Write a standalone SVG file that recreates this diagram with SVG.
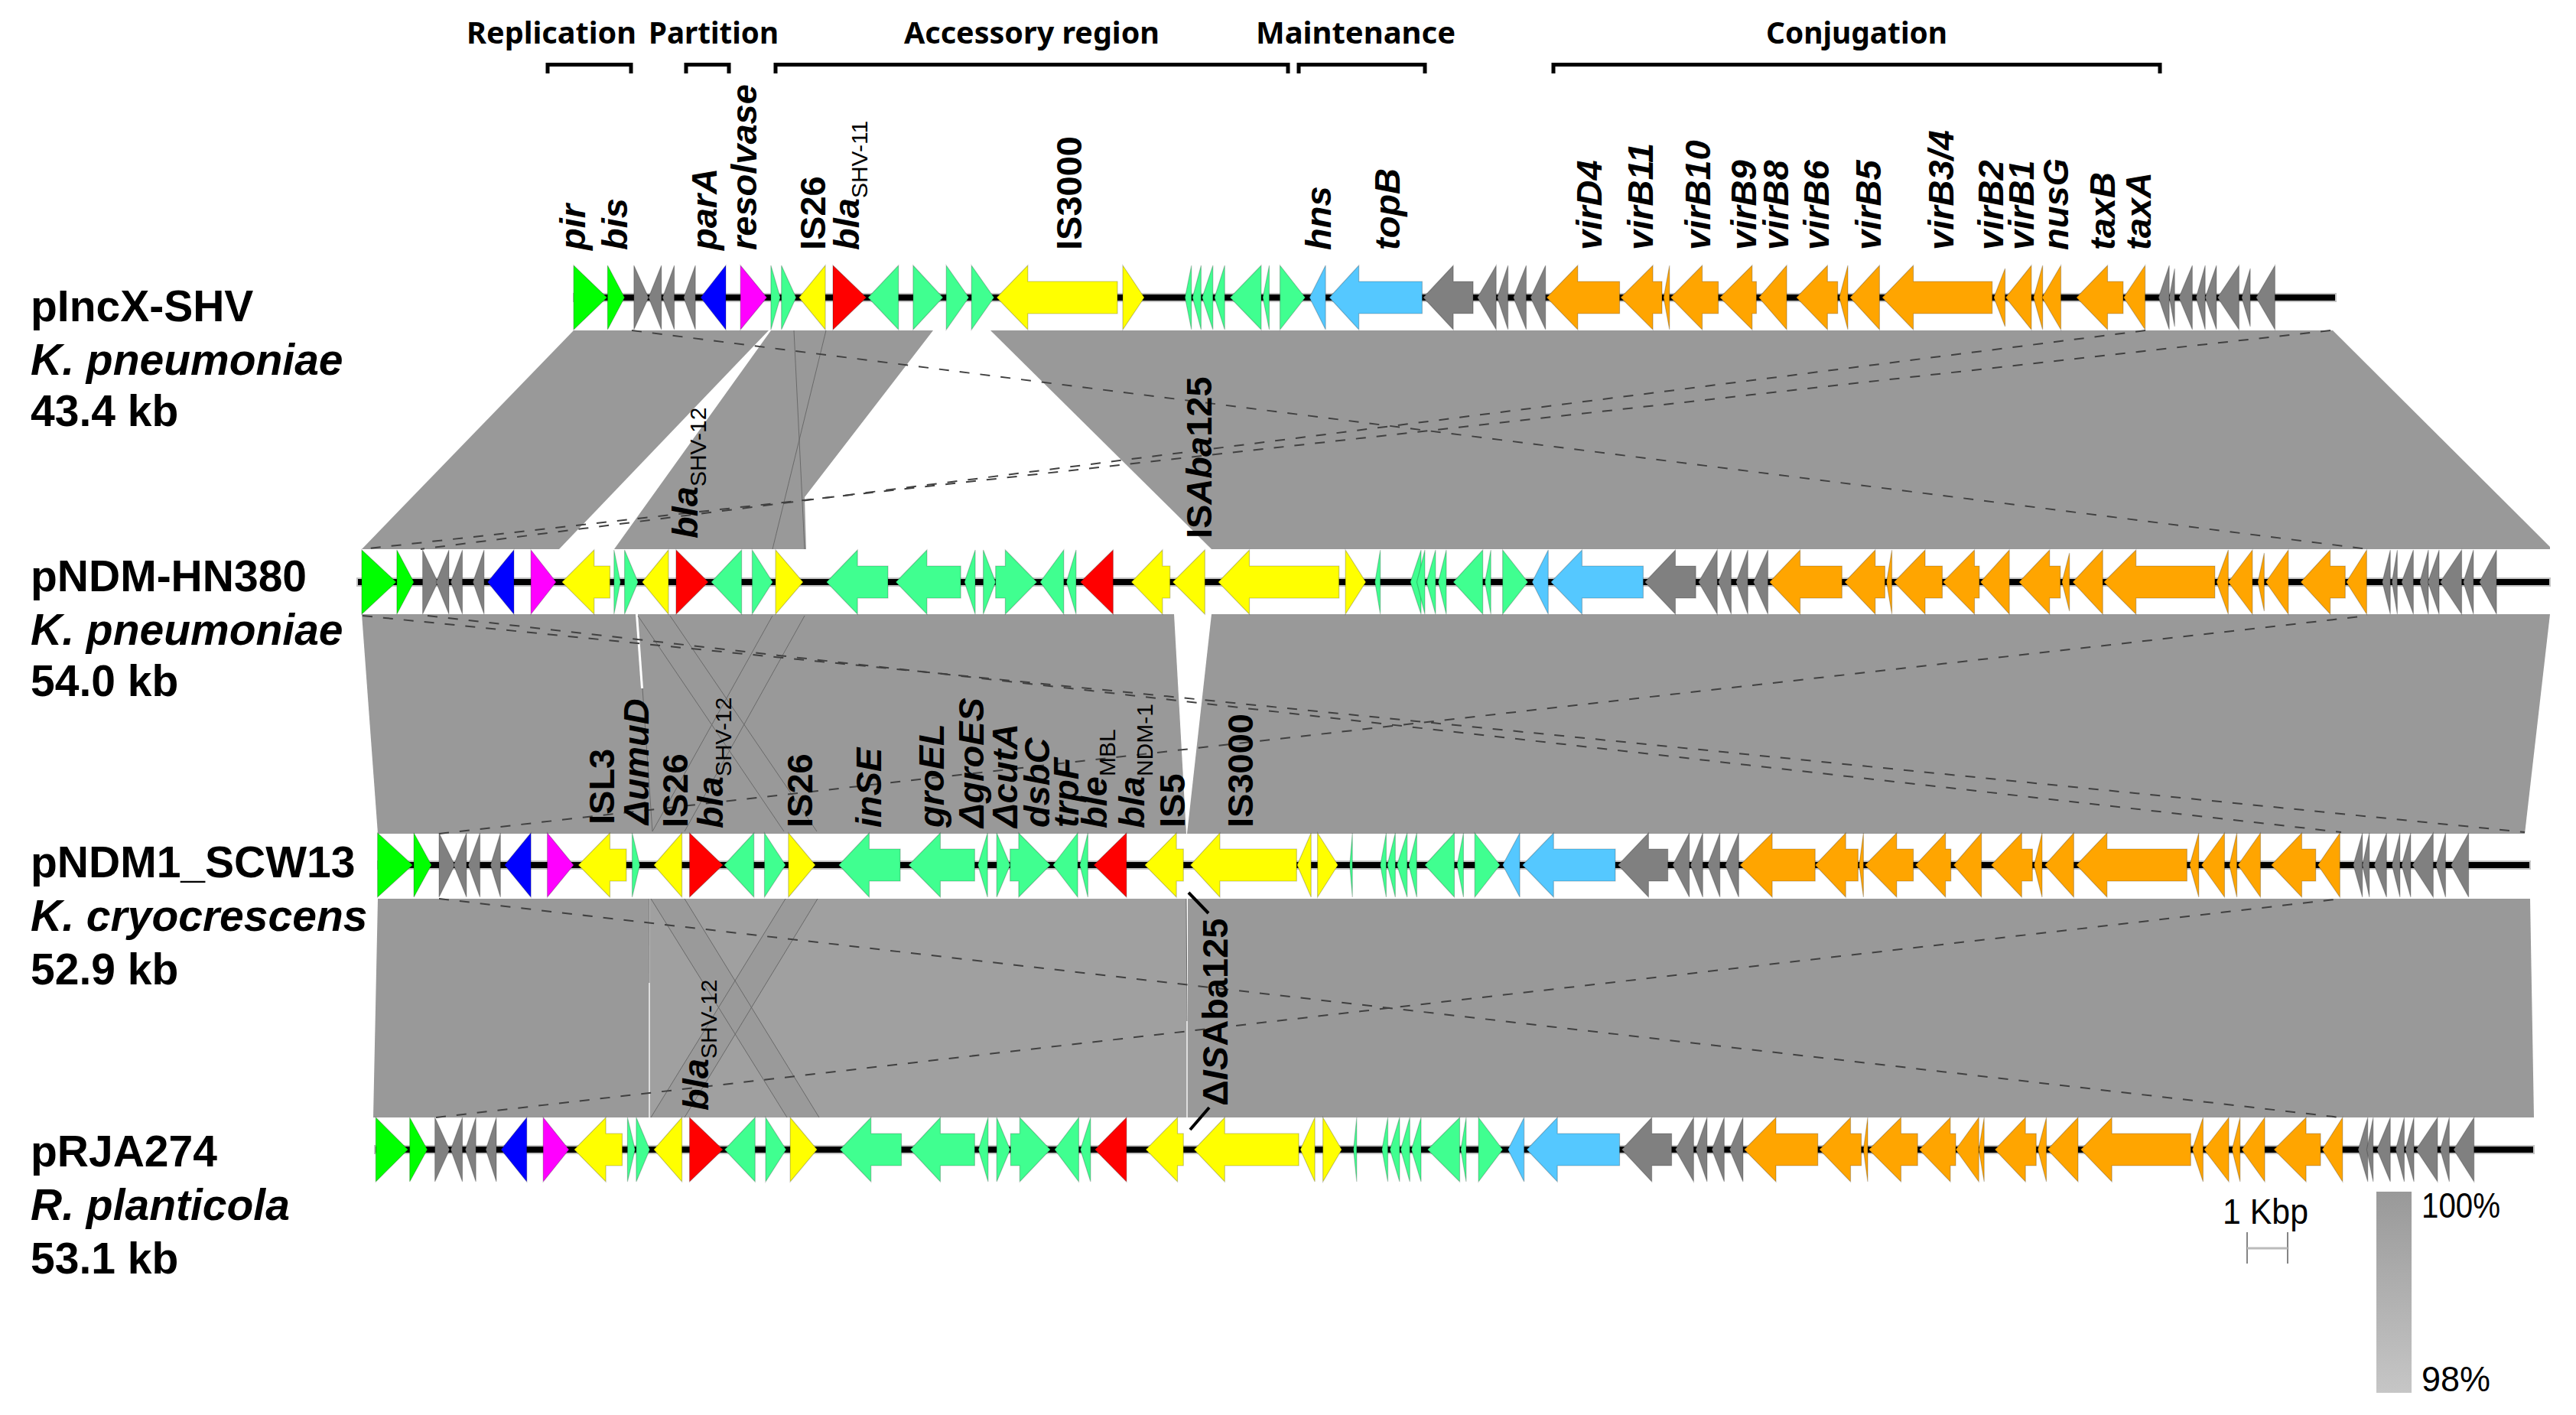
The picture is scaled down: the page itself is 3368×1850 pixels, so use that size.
<svg xmlns="http://www.w3.org/2000/svg" width="3368" height="1850" viewBox="0 0 3368 1850">
<defs>
<linearGradient id="scaleGrad" x1="0" y1="0" x2="0" y2="1"><stop offset="0" stop-color="#999"/><stop offset="1" stop-color="#c6c6c6"/></linearGradient>
</defs>
<style>
text{font-family:"Liberation Sans",Arial,sans-serif;fill:#000}
.name{font-size:57px;font-weight:bold}
.sp{font-size:57px;font-weight:bold;font-style:italic}
.head{font-family:"Noto Sans","Liberation Sans",sans-serif;font-size:40px;font-weight:bold}
.gi{font-size:47px;font-weight:bold;font-style:italic}
.gr{font-size:47px;font-weight:bold}
.sub{font-size:30px;font-weight:normal;font-style:normal}
.it{font-style:italic}
.leg{font-size:46px}
.band{fill:#999}
.bandl{fill:#a0a0a0}
.dash{fill:none;stroke:#404040;stroke-width:2;stroke-dasharray:13 14}
.thin{fill:none;stroke:#6a6a6a;stroke-width:1}
.br{fill:none;stroke:#000;stroke-width:5}
.lead{fill:none;stroke:#000;stroke-width:4}
.bb{fill:#000;stroke:#c4c4c4;stroke-width:2}
.g,.s,.y,.r,.b,.m,.k,.o,.c{stroke:#000;stroke-opacity:.22;stroke-width:1.2;vector-effect:non-scaling-stroke}
.g{fill:#0f0}.s{fill:#40ff90}.y{fill:#ff0}.r{fill:#f00}.b{fill:#00f}.m{fill:#f0f}.k{fill:#808080}.o{fill:#ffa500}.c{fill:#55c8ff}
</style>
<rect width="3368" height="1850" fill="#fff"/>

<g id="connectors">
<polygon class="band" points="750,432 1005,432 731,718 473,718"/>
<polygon class="band" points="1008,432 1220,432 1052,650 1054,718 803,718"/>
<polygon class="band" points="1295,432 3050,432 3334,715 3334,718 1584,718"/>
<polygon class="band" points="473,803 1535,803 1551,1090 494,1090"/>
<polygon class="band" points="1584,803 3334,803 3301,1090 1552,1090"/>
<polygon class="band" points="494,1175 849,1175 848,1461 488,1461"/>
<polygon class="bandl" points="850,1175 1551,1175 1552,1461 850,1461"/>
<polygon class="band" points="1553,1175 3308,1175 3313,1461 1553,1461"/>
<polygon fill="#9a9a9a" points="851,1175 895,1175 1071,1461 1029,1461"/>
<polygon fill="#9a9a9a" points="1027,1175 1069,1175 895,1461 851,1461"/>
<polygon fill="#fff" points="831,803 834,803 841,900 838,900"/>
<line class="thin" x1="840" y1="900" x2="853" y2="1087"/>
<line x1="849" y1="1285" x2="849" y2="1461" stroke="#ddd" stroke-width="2"/>
<line class="thin" x1="849" y1="1175" x2="849" y2="1285"/>
<line x1="1552" y1="1335" x2="1552" y2="1461" stroke="#ddd" stroke-width="2"/>
<line class="thin" x1="1551" y1="1175" x2="1552" y2="1335"/>
<line class="thin" x1="1038" y1="432" x2="1052" y2="718"/>
<line class="thin" x1="1080" y1="432" x2="1010" y2="718"/>
<line class="thin" x1="834" y1="805" x2="1025" y2="1087"/>
<line class="thin" x1="876" y1="805" x2="1068" y2="1087"/>
<line class="thin" x1="1010" y1="805" x2="853" y2="1087"/>
<line class="thin" x1="1052" y1="805" x2="895" y2="1087"/>
<line class="thin" x1="851" y1="1175" x2="1029" y2="1461"/>
<line class="thin" x1="895" y1="1175" x2="1071" y2="1461"/>
<line class="thin" x1="1027" y1="1175" x2="851" y2="1461"/>
<line class="thin" x1="1069" y1="1175" x2="895" y2="1461"/>
<line class="dash" x1="826" y1="432" x2="3096" y2="718"/>
<line class="dash" x1="2805" y1="432" x2="550" y2="718"/>
<line class="dash" x1="3047" y1="432" x2="474" y2="718"/>
<line class="dash" x1="474" y1="805" x2="3301" y2="1088"/>
<line class="dash" x1="559" y1="805" x2="3061" y2="1088"/>
<line class="dash" x1="574" y1="1090" x2="3096" y2="805"/>
<line class="dash" x1="574" y1="1175" x2="3060" y2="1461"/>
<line class="dash" x1="570" y1="1461" x2="3061" y2="1175"/>
</g>

<g id="headers">
<text class="head" x="610" y="57" textLength="222" lengthAdjust="spacingAndGlyphs">Replication</text>
<text class="head" x="848" y="57" textLength="170" lengthAdjust="spacingAndGlyphs">Partition</text>
<text class="head" x="1182" y="57" textLength="334" lengthAdjust="spacingAndGlyphs">Accessory region</text>
<text class="head" x="1642" y="57" textLength="261" lengthAdjust="spacingAndGlyphs">Maintenance</text>
<text class="head" x="2309" y="57" textLength="237" lengthAdjust="spacingAndGlyphs">Conjugation</text>
<path class="br" d="M716 96V84.500H825V96"/>
<path class="br" d="M897 96V84.500H953V96"/>
<path class="br" d="M1014 96V84.500H1684V96"/>
<path class="br" d="M1698 96V84.500H1863V96"/>
<path class="br" d="M2031 96V84.500H2824V96"/>
</g>

<g id="plasmid-labels">
<text class="name" x="40" y="420">pIncX-SHV</text>
<text class="sp" x="40" y="490">K. pneumoniae</text>
<text class="name" x="40" y="557">43.4 kb</text>
<text class="name" x="40" y="773">pNDM-HN380</text>
<text class="sp" x="40" y="843">K. pneumoniae</text>
<text class="name" x="40" y="910">54.0 kb</text>
<text class="name" x="40" y="1147">pNDM1_SCW13</text>
<text class="sp" x="40" y="1217">K. cryocrescens</text>
<text class="name" x="40" y="1287">52.9 kb</text>
<text class="name" x="40" y="1525">pRJA274</text>
<text class="sp" x="40" y="1595">R. planticola</text>
<text class="name" x="40" y="1665">53.1 kb</text>
</g>

<g id="track-pIncX-SHV">
<rect class="bb" x="750" y="384" width="2304" height="10"/>
<g transform="translate(0,389) scale(.7653,1)">
<path class="g" d="M980-42L1037 0L980 42Z"/><path class="g" d="M1038-42L1067 0L1038 42Z"/>
<path class="k" d="M1083-42L1108 0L1083 42Z"/><path class="k" d="M1130-42L1108 0L1130 42Z"/><path class="k" d="M1152-42L1132 0L1152 42Z"/><path class="k" d="M1188-42L1168 0L1188 42Z"/>
<path class="b" d="M1240-42L1197 0L1240 42Z"/><path class="m" d="M1265-42L1310 0L1265 42Z"/>
<path class="s" d="M1317-42L1333 0L1317 42Z"/><path class="s" d="M1335-42L1360 0L1335 42Z"/>
<path class="y" d="M1410-42L1365 0L1410 42Z"/><path class="r" d="M1423-42L1480 0L1423 42Z"/>
<path class="s" d="M1535-42L1483 0L1535 42Z"/><path class="s" d="M1560-42L1611 0L1560 42Z"/>
</g>
<g transform="translate(1200,389) scale(.7015,1)">
<path class="s" d="M53-42L95 0L53 42Z"/><path class="s" d="M100-42L142 0L100 42Z"/>
<path class="y" d="M147 0L205-42V-21H372V21H205V42Z"/><path class="y" d="M382-42L422 0L382 42Z"/>
<path class="s" d="M510-42L498 0L510 42Z"/><path class="s" d="M528-42L512 0L528 42Z"/><path class="s" d="M550-42L530 0L550 42Z"/><path class="s" d="M572-42L553 0L572 42Z"/>
<path class="s" d="M640-42L582 0L640 42Z"/><path class="s" d="M655-42L643 0L655 42Z"/><path class="s" d="M675-42L722 0L675 42Z"/>
<path class="c" d="M760-42L730 0L760 42Z"/><path class="c" d="M767 0L822-42V-21H940V21H822V42Z"/>
<path class="k" d="M942 0L998-42V-21H1035V21H998V42Z"/>
<path class="k" d="M1078-42L1043 0L1078 42Z"/><path class="k" d="M1100-42L1080 0L1100 42Z"/><path class="k" d="M1134-42L1110 0L1134 42Z"/><path class="k" d="M1170-42L1142 0L1170 42Z"/>
<path class="o" d="M1172 0L1230-42V-21H1308V21H1230V42Z"/><path class="o" d="M1310 0L1370-42V-21H1387V21H1370V42Z"/>
<path class="o" d="M1401-42L1390 0L1401 42Z"/><path class="o" d="M1403 0L1462-42V-21H1492V21H1462V42Z"/>
<path class="o" d="M1495 0L1555-42V-21H1563V21H1555V42Z"/>
</g>
<g transform="translate(2268,389) scale(.7015,1)">
<path class="o" d="M97-42L45 0L97 42Z"/><path class="o" d="M115 0L173-42V-21H192V21H173V42Z"/><path class="o" d="M211-42L195 0L211 42Z"/><path class="o" d="M270-42L215 0L270 42Z"/>
<path class="o" d="M275 0L333-42V-21H480V21H333V42Z"/><path class="o" d="M504-38L483 0L504 38Z"/><path class="o" d="M553-42L505 0L553 42Z"/><path class="o" d="M574-42L557 0L574 42Z"/><path class="o" d="M608-42L573 0L608 42Z"/>
<path class="o" d="M637 0L695-42V-21H724V21H695V42Z"/><path class="o" d="M765-42L725 0L765 42Z"/>
<path class="k" d="M810-42L790 0L810 42Z"/><path class="k" d="M820-38L810 0L820 38Z"/><path class="k" d="M853-42L828 0L853 42Z"/><path class="k" d="M877-42L860 0L877 42Z"/><path class="k" d="M898-42L877 0L898 42Z"/><path class="k" d="M940-42L900 0L940 42Z"/><path class="k" d="M961-38L945 0L961 38Z"/><path class="k" d="M1007-42L972 0L1007 42Z"/>
</g>
</g>

<g id="track-pNDM-HN380">
<rect class="bb" x="467" y="756" width="2867" height="10"/>
<g transform="translate(0,761) scale(.7653,1)">
<path class="g" d="M618-42L677 0L618 42Z"/><path class="g" d="M678-42L707 0L678 42Z"/>
<path class="k" d="M722-42L748 0L722 42Z"/><path class="k" d="M767-42L745 0L767 42Z"/><path class="k" d="M790-42L770 0L790 42Z"/><path class="k" d="M827-42L808 0L827 42Z"/>
<path class="b" d="M878-42L833 0L878 42Z"/><path class="m" d="M907-42L950 0L907 42Z"/>
<path class="y" d="M960 0L1015-42V-21H1042V21H1015V42Z"/>
<path class="s" d="M1049-42L1060 0L1049 42Z"/><path class="s" d="M1067-42L1090 0L1067 42Z"/>
<path class="y" d="M1142-42L1097 0L1142 42Z"/><path class="r" d="M1155-42L1210 0L1155 42Z"/>
<path class="s" d="M1267-42L1215 0L1267 42Z"/><path class="s" d="M1285-42L1320 0L1285 42Z"/>
<path class="y" d="M1325-42L1372 0L1325 42Z"/>
<path class="s" d="M1412 0L1465-42V-21H1517V21H1465V42Z"/>
</g>
<g transform="translate(1200,761) scale(.7015,1)">
<path class="s" d="M-41 0L17-42V-21H80V21H17V42Z"/>
<path class="s" d="M107-42L87 0L107 42Z"/><path class="s" d="M122-42L145 0L122 42Z"/>
<path class="s" d="M145-21H163V-42L222 0L163 42V21H145Z"/>
<path class="s" d="M272-42L228 0L272 42Z"/><path class="s" d="M295-42L277 0L295 42Z"/>
<path class="r" d="M364-42L303 0L364 42Z"/>
<path class="y" d="M398 0L456-42V-21H470V21H456V42Z"/><path class="y" d="M535-42L475 0L535 42Z"/>
<path class="y" d="M560 0L618-42V-21H785V21H618V42Z"/><path class="y" d="M797-42L835 0L797 42Z"/>
<path class="s" d="M862-42L852 0L862 42Z"/>
<path class="s" d="M938-42L918 0L938 42Z"/><path class="s" d="M945-42L930 0L945 42Z"/><path class="s" d="M965-42L948 0L965 42Z"/><path class="s" d="M985-42L970 0L985 42Z"/>
<path class="s" d="M1053-42L998 0L1053 42Z"/><path class="s" d="M1068-42L1057 0L1068 42Z"/><path class="s" d="M1090-42L1137 0L1090 42Z"/>
<path class="c" d="M1175-42L1145 0L1175 42Z"/><path class="c" d="M1180 0L1238-42V-21H1352V21H1238V42Z"/>
<path class="k" d="M1355 0L1412-42V-21H1450V21H1412V42Z"/>
<path class="k" d="M1490-42L1455 0L1490 42Z"/><path class="k" d="M1516-42L1492 0L1516 42Z"/><path class="k" d="M1547-42L1525 0L1547 42Z"/>
</g>
<g transform="translate(2268,761) scale(.7015,1)">
<path class="k" d="M62-42L35 0L62 42Z"/>
<path class="o" d="M65 0L122-42V-21H200V21H122V42Z"/><path class="o" d="M205 0L262-42V-21H280V21H262V42Z"/><path class="o" d="M293-42L283 0L293 42Z"/>
<path class="o" d="M297 0L355-42V-21H387V21H355V42Z"/><path class="o" d="M388 0L447-42V-21H456V21H447V42Z"/><path class="o" d="M512-42L458 0L512 42Z"/>
<path class="o" d="M530 0L587-42V-21H607V21H587V42Z"/><path class="o" d="M624-38L610 0L624 38Z"/><path class="o" d="M686-42L630 0L686 42Z"/>
<path class="o" d="M688 0L748-42V-21H895V21H748V42Z"/><path class="o" d="M920-42L898 0L920 42Z"/><path class="o" d="M965-42L920 0L965 42Z"/><path class="o" d="M987-38L975 0L987 38Z"/><path class="o" d="M1032-42L990 0L1032 42Z"/>
<path class="o" d="M1055 0L1110-42V-21H1138V21H1110V42Z"/><path class="o" d="M1178-42L1140 0L1178 42Z"/>
<path class="k" d="M1222-42L1207 0L1222 42Z"/><path class="k" d="M1235-42L1225 0L1235 42Z"/><path class="k" d="M1265-42L1243 0L1265 42Z"/><path class="k" d="M1293-42L1277 0L1293 42Z"/><path class="k" d="M1313-42L1292 0L1313 42Z"/><path class="k" d="M1355-42L1315 0L1355 42Z"/><path class="k" d="M1377-42L1358 0L1377 42Z"/><path class="k" d="M1420-42L1388 0L1420 42Z"/>
</g>
</g>

<g id="track-pNDM1_SCW13">
<rect class="bb" x="494" y="1126" width="2814" height="10"/>
<g transform="translate(0,1131) scale(.7653,1)">
<path class="g" d="M645-42L705 0L645 42Z"/><path class="g" d="M707-42L737 0L707 42Z"/>
<path class="k" d="M750-42L777 0L750 42Z"/><path class="k" d="M797-42L775 0L797 42Z"/><path class="k" d="M820-42L800 0L820 42Z"/><path class="k" d="M855-42L838 0L855 42Z"/>
<path class="b" d="M907-42L862 0L907 42Z"/><path class="m" d="M935-42L980 0L935 42Z"/>
<path class="y" d="M988 0L1042-42V-21H1070V21H1042V42Z"/>
<path class="s" d="M1080-42L1093 0L1080 42Z"/>
<path class="y" d="M1165-42L1117 0L1165 42Z"/><path class="r" d="M1178-42L1235 0L1178 42Z"/>
<path class="s" d="M1288-42L1237 0L1288 42Z"/><path class="s" d="M1306-42L1342 0L1306 42Z"/>
<path class="y" d="M1347-42L1393 0L1347 42Z"/>
<path class="s" d="M1433 0L1485-42V-21H1538V21H1485V42Z"/>
</g>
<g transform="translate(1200,1131) scale(.7015,1)">
<path class="s" d="M-17 0L42-42V-21H106V21H42V42Z"/>
<path class="s" d="M130-42L112 0L130 42Z"/><path class="s" d="M147-42L172 0L147 42Z"/>
<path class="s" d="M172-21H188V-42L247 0L188 42V21H172Z"/>
<path class="s" d="M298-42L252 0L298 42Z"/><path class="s" d="M317-42L302 0L317 42Z"/>
<path class="r" d="M389-42L328 0L389 42Z"/>
<path class="y" d="M423 0L482-42V-21H495V21H482V42Z"/>
<path class="y" d="M508 0L563-42V-21H706V21H563V42Z"/>
<path class="y" d="M733-42L707 0L733 42Z"/><path class="y" d="M745-42L783 0L745 42Z"/>
<path class="s" d="M810-42L805 0L810 42Z"/>
<path class="s" d="M873-42L862 0L873 42Z"/><path class="s" d="M890-42L875 0L890 42Z"/><path class="s" d="M912-42L893 0L912 42Z"/><path class="s" d="M930-42L915 0L930 42Z"/>
<path class="s" d="M1000-42L945 0L1000 42Z"/><path class="s" d="M1017-42L1005 0L1017 42Z"/><path class="s" d="M1038-42L1085 0L1038 42Z"/>
<path class="c" d="M1122-42L1090 0L1122 42Z"/><path class="c" d="M1127 0L1185-42V-21H1300V21H1185V42Z"/>
<path class="k" d="M1305 0L1362-42V-21H1398V21H1362V42Z"/>
<path class="k" d="M1438-42L1407 0L1438 42Z"/><path class="k" d="M1463-42L1440 0L1463 42Z"/><path class="k" d="M1495-42L1472 0L1495 42Z"/><path class="k" d="M1530-42L1505 0L1530 42Z"/>
</g>
<g transform="translate(2268,1131) scale(.7015,1)">
<path class="o" d="M10 0L70-42V-21H150V21H70V42Z"/><path class="o" d="M150 0L207-42V-21H230V21H207V42Z"/><path class="o" d="M240-42L232 0L240 42Z"/>
<path class="o" d="M243 0L302-42V-21H333V21H302V42Z"/><path class="o" d="M337 0L393-42V-21H403V21H393V42Z"/><path class="o" d="M460-42L408 0L460 42Z"/>
<path class="o" d="M478 0L535-42V-21H555V21H535V42Z"/><path class="o" d="M573-42L558 0L573 42Z"/><path class="o" d="M632-42L578 0L632 42Z"/>
<path class="o" d="M637 0L694-42V-21H843V21H694V42Z"/><path class="o" d="M865-42L848 0L865 42Z"/><path class="o" d="M913-42L870 0L913 42Z"/><path class="o" d="M936-42L922 0L936 42Z"/><path class="o" d="M980-42L938 0L980 42Z"/>
<path class="o" d="M1000 0L1057-42V-21H1083V21H1057V42Z"/><path class="o" d="M1128-42L1087 0L1128 42Z"/>
<path class="k" d="M1170-42L1153 0L1170 42Z"/><path class="k" d="M1183-42L1170 0L1183 42Z"/><path class="k" d="M1215-42L1192 0L1215 42Z"/><path class="k" d="M1240-42L1225 0L1240 42Z"/><path class="k" d="M1260-42L1243 0L1260 42Z"/><path class="k" d="M1302-42L1263 0L1302 42Z"/><path class="k" d="M1325-42L1307 0L1325 42Z"/><path class="k" d="M1368-42L1335 0L1368 42Z"/>
</g>
</g>

<g id="track-pRJA274">
<rect class="bb" x="490" y="1498" width="2823" height="10"/>
<g transform="translate(0,1503) scale(.7653,1)">
<path class="g" d="M642-42L697 0L642 42Z"/><path class="g" d="M700-42L730 0L700 42Z"/>
<path class="k" d="M743-42L768 0L743 42Z"/><path class="k" d="M790-42L770 0L790 42Z"/><path class="k" d="M813-42L795 0L813 42Z"/><path class="k" d="M848-42L830 0L848 42Z"/>
<path class="b" d="M900-42L856 0L900 42Z"/><path class="m" d="M928-42L972 0L928 42Z"/>
<path class="y" d="M981 0L1035-42V-21H1063V21H1035V42Z"/>
<path class="s" d="M1072-42L1085 0L1072 42Z"/><path class="s" d="M1087-42L1110 0L1087 42Z"/>
<path class="y" d="M1165-42L1117 0L1165 42Z"/><path class="r" d="M1178-42L1235 0L1178 42Z"/>
<path class="s" d="M1290-42L1238 0L1290 42Z"/><path class="s" d="M1308-42L1343 0L1308 42Z"/>
<path class="y" d="M1350-42L1396 0L1350 42Z"/>
<path class="s" d="M1435 0L1488-42V-21H1540V21H1488V42Z"/>
</g>
<g transform="translate(1200,1503) scale(.7015,1)">
<path class="s" d="M-14 0L42-42V-21H106V21H42V42Z"/>
<path class="s" d="M131-42L113 0L131 42Z"/><path class="s" d="M147-42L172 0L147 42Z"/>
<path class="s" d="M173-21H190V-42L247 0L190 42V21H173Z"/>
<path class="s" d="M300-42L255 0L300 42Z"/><path class="s" d="M322-42L303 0L322 42Z"/>
<path class="r" d="M389-42L330 0L389 42Z"/>
<path class="y" d="M425 0L484-42V-21H495V21H484V42Z"/>
<path class="y" d="M515 0L572-42V-21H710V21H572V42Z"/>
<path class="y" d="M740-42L713 0L740 42Z"/><path class="y" d="M755-42L790 0L755 42Z"/>
<path class="s" d="M818-42L812 0L818 42Z"/>
<path class="s" d="M876-42L865 0L876 42Z"/><path class="s" d="M898-42L880 0L898 42Z"/><path class="s" d="M917-42L900 0L917 42Z"/><path class="s" d="M938-42L920 0L938 42Z"/>
<path class="s" d="M1010-42L950 0L1010 42Z"/><path class="s" d="M1022-42L1012 0L1022 42Z"/><path class="s" d="M1045-42L1090 0L1045 42Z"/>
<path class="c" d="M1130-42L1100 0L1130 42Z"/><path class="c" d="M1135 0L1192-42V-21H1308V21H1192V42Z"/>
<path class="k" d="M1312 0L1368-42V-21H1405V21H1368V42Z"/>
<path class="k" d="M1446-42L1412 0L1446 42Z"/><path class="k" d="M1471-42L1450 0L1471 42Z"/><path class="k" d="M1503-42L1480 0L1503 42Z"/><path class="k" d="M1538-42L1513 0L1538 42Z"/>
</g>
<g transform="translate(2268,1503) scale(.7015,1)">
<path class="o" d="M18 0L77-42V-21H155V21H77V42Z"/><path class="o" d="M158 0L216-42V-21H236V21H216V42Z"/><path class="o" d="M248-42L240 0L248 42Z"/>
<path class="o" d="M250 0L310-42V-21H341V21H310V42Z"/><path class="o" d="M344 0L402-42V-21H412V21H402V42Z"/><path class="o" d="M455-42L412 0L455 42Z"/><path class="o" d="M465-42L455 0L465 42Z"/>
<path class="o" d="M485 0L542-42V-21H562V21H542V42Z"/><path class="o" d="M581-42L565 0L581 42Z"/><path class="o" d="M640-42L583 0L640 42Z"/>
<path class="o" d="M645 0L703-42V-21H850V21H703V42Z"/><path class="o" d="M873-42L853 0L873 42Z"/><path class="o" d="M921-42L875 0L921 42Z"/><path class="o" d="M942-42L927 0L942 42Z"/><path class="o" d="M988-42L945 0L988 42Z"/>
<path class="o" d="M1005 0L1065-42V-21H1092V21H1065V42Z"/><path class="o" d="M1133-42L1095 0L1133 42Z"/>
<path class="k" d="M1180-42L1162 0L1180 42Z"/><path class="k" d="M1190-42L1178 0L1190 42Z"/><path class="k" d="M1222-42L1197 0L1222 42Z"/><path class="k" d="M1248-42L1232 0L1248 42Z"/><path class="k" d="M1266-42L1250 0L1266 42Z"/><path class="k" d="M1310-42L1270 0L1310 42Z"/><path class="k" d="M1332-42L1315 0L1332 42Z"/><path class="k" d="M1378-42L1340 0L1378 42Z"/>
</g>
</g>

<g id="gene-labels-top">
<text class="gi" transform="translate(765,327) rotate(-90)">pir</text>
<text class="gi" transform="translate(820,327) rotate(-90)">bis</text>
<text class="gi" transform="translate(937,327) rotate(-90)">parA</text>
<text class="gi" transform="translate(989,327) rotate(-90)">resolvase</text>
<text class="gr" transform="translate(1079,327) rotate(-90)">IS26</text>
<text class="gi" transform="translate(1123,327) rotate(-90)">bla<tspan class="sub" dy="11">SHV-11</tspan></text>
<text class="gr" transform="translate(1414,327) rotate(-90)">IS3000</text>
<text class="gi" transform="translate(1740,327) rotate(-90)">hns</text>
<text class="gi" transform="translate(1830,327) rotate(-90)">topB</text>
<text class="gi" transform="translate(2094,327) rotate(-90)">virD4</text>
<text class="gi" transform="translate(2161,327) rotate(-90)">virB11</text>
<text class="gi" transform="translate(2236,327) rotate(-90)">virB10</text>
<text class="gi" transform="translate(2296,327) rotate(-90)">virB9</text>
<text class="gi" transform="translate(2338,327) rotate(-90)">virB8</text>
<text class="gi" transform="translate(2391,327) rotate(-90)">virB6</text>
<text class="gi" transform="translate(2459,327) rotate(-90)">virB5</text>
<text class="gi" transform="translate(2554,327) rotate(-90)">virB3/4</text>
<text class="gi" transform="translate(2619,327) rotate(-90)">virB2</text>
<text class="gi" transform="translate(2659,327) rotate(-90)">virB1</text>
<text class="gi" transform="translate(2704,327) rotate(-90)">nusG</text>
<text class="gi" transform="translate(2765,327) rotate(-90)">taxB</text>
<text class="gi" transform="translate(2812,327) rotate(-90)">taxA</text>
</g>

<g id="gene-labels-bands">
<text class="gi" transform="translate(912,704) rotate(-90)">bla<tspan class="sub" dy="11">SHV-12</tspan></text>
<text class="gr" transform="translate(1584,704) rotate(-90)">IS<tspan class="it">Aba</tspan>125</text>
<text class="gr" transform="translate(803,1078) rotate(-90)">ISL3</text>
<text class="gi" transform="translate(848,1078) rotate(-90)">ΔumuD</text>
<text class="gr" transform="translate(899,1082) rotate(-90)">IS26</text>
<text class="gi" transform="translate(945,1083) rotate(-90)">bla<tspan class="sub" dy="11">SHV-12</tspan></text>
<text class="gr" transform="translate(1062,1082) rotate(-90)">IS26</text>
<text class="gi" transform="translate(1152,1082) rotate(-90)">inSE</text>
<text class="gi" transform="translate(1234,1082) rotate(-90)">groEL</text>
<text class="gi" transform="translate(1286,1082) rotate(-90)">ΔgroES</text>
<text class="gi" transform="translate(1330,1082) rotate(-90)">ΔcutA</text>
<text class="gi" transform="translate(1372,1082) rotate(-90)">dsbC</text>
<text class="gi" transform="translate(1410,1082) rotate(-90)">trpF</text>
<text class="gi" transform="translate(1447,1083) rotate(-90)">ble<tspan class="sub" dy="11">MBL</tspan></text>
<text class="gi" transform="translate(1496,1083) rotate(-90)">bla<tspan class="sub" dy="11">NDM-1</tspan></text>
<text class="gr" transform="translate(1549,1082) rotate(-90)">IS5</text>
<text class="gr" transform="translate(1638,1082) rotate(-90)">IS3000</text>
<text class="gi" transform="translate(926,1452) rotate(-90)">bla<tspan class="sub" dy="11">SHV-12</tspan></text>
<text class="gr" transform="translate(1605,1446) rotate(-90)">Δ<tspan class="it">IS</tspan>Aba125</text>
<path class="lead" d="M1554 1167L1580 1194"/>
<path class="lead" d="M1556 1477L1581 1448"/>
</g>

<g id="legend">
<text class="leg" x="2906" y="1600" textLength="112" lengthAdjust="spacingAndGlyphs">1 Kbp</text>
<line x1="2938" y1="1611" x2="2938" y2="1652" stroke="#666" stroke-width="1.6"/>
<line x1="2991" y1="1611" x2="2991" y2="1652" stroke="#666" stroke-width="1.6"/>
<line x1="2938" y1="1632" x2="2991" y2="1632" stroke="#bbb" stroke-width="3"/>
<rect x="3107" y="1558" width="46" height="263" fill="url(#scaleGrad)"/>
<text class="leg" x="3166" y="1592" textLength="103" lengthAdjust="spacingAndGlyphs">100%</text>
<text class="leg" x="3166" y="1819" textLength="90" lengthAdjust="spacingAndGlyphs">98%</text>
</g>
</svg>
